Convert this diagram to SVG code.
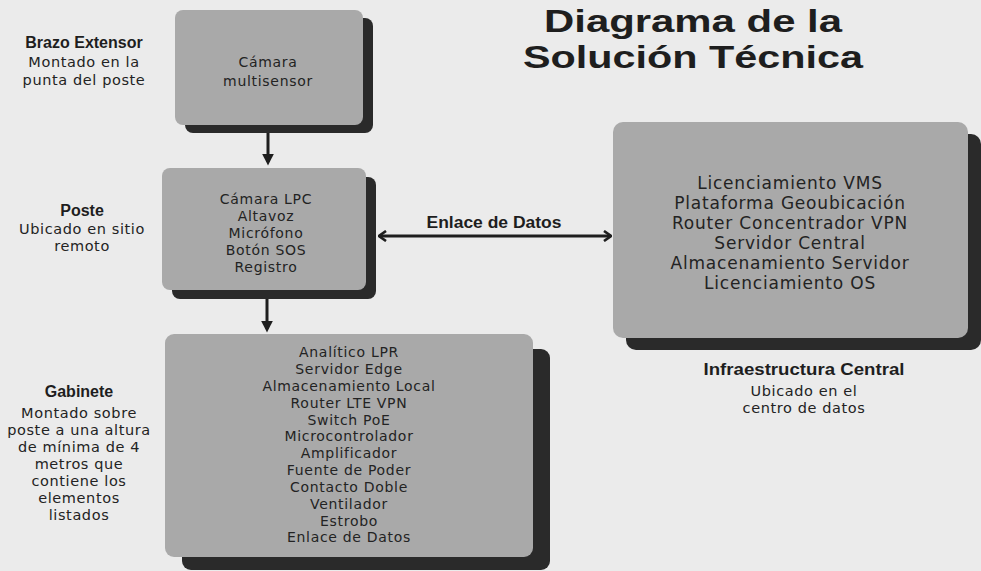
<svg xmlns="http://www.w3.org/2000/svg" width="981" height="571" viewBox="0 0 981 571">
<defs>
<style>
.bg{fill:#ebebeb}
.box{fill:#a9a9a9}
.sh{fill:#2a2a2a}
.t{font-family:"DejaVu Sans",sans-serif;font-size:14px;letter-spacing:0.7px;fill:#232323;text-anchor:middle}
.tl{font-size:17px;letter-spacing:0.8px}
.lbl{font-family:"Liberation Sans",Arial,sans-serif;font-weight:bold;font-size:16px;fill:#1e1e1e;text-anchor:middle}
.d{font-family:"DejaVu Sans",sans-serif;font-size:14.5px;letter-spacing:0.6px;fill:#232323;text-anchor:middle}
.title{font-family:"Liberation Sans",Arial,sans-serif;font-weight:bold;font-size:31px;fill:#1e1e1e;text-anchor:middle}
.conn{stroke:#1e1e1e;stroke-width:3;fill:none}
</style>
<marker id="tri" viewBox="0 0 10 10" refX="7" refY="5" markerWidth="12" markerHeight="12" markerUnits="userSpaceOnUse" orient="auto">
<path d="M0,0 L10,5 L0,10 z" fill="#1e1e1e"/>
</marker>
<marker id="chev" viewBox="0 0 10 12" refX="9" refY="6" markerWidth="10" markerHeight="12" markerUnits="userSpaceOnUse" orient="auto-start-reverse">
<path d="M2,1 L9,6 L2,11" fill="none" stroke="#1e1e1e" stroke-width="2.6"/>
</marker>
</defs>
<rect class="bg" x="0" y="0" width="981" height="571"/>

<g id="title">
<text class="title" x="693" y="32" textLength="298" lengthAdjust="spacingAndGlyphs">Diagrama de la</text>
<text class="title" x="693" y="68" textLength="340" lengthAdjust="spacingAndGlyphs">Solución Técnica</text>
</g>

<g id="label-brazo">
<text class="lbl" x="84" y="48">Brazo Extensor</text>
<text class="d" x="84" y="67">Montado en la</text>
<text class="d" x="84" y="85">punta del poste</text>
</g>

<g id="label-poste">
<text class="lbl" x="82" y="216">Poste</text>
<text class="d" x="82" y="234">Ubicado en sitio</text>
<text class="d" x="82" y="251">remoto</text>
</g>

<g id="label-gabinete">
<text class="lbl" x="79" y="397">Gabinete</text>
<text class="d" x="79" y="418">Montado sobre</text>
<text class="d" x="79" y="435">poste a una altura</text>
<text class="d" x="79" y="452">de mínima de 4</text>
<text class="d" x="79" y="469">metros que</text>
<text class="d" x="79" y="486">contiene los</text>
<text class="d" x="79" y="503">elementos</text>
<text class="d" x="79" y="520">listados</text>
</g>

<g id="label-infra">
<text class="lbl" x="804" y="375" textLength="201" lengthAdjust="spacingAndGlyphs">Infraestructura Central</text>
<text class="d" x="804" y="396">Ubicado en el</text>
<text class="d" x="804" y="413">centro de datos</text>
</g>

<g id="node-camara">
<rect class="sh" x="185" y="18" width="188" height="115" rx="8"/>
<rect class="box" x="175" y="10" width="188" height="115" rx="8"/>
<text class="t" x="268" y="67">Cámara</text>
<text class="t" x="268" y="86">multisensor</text>
</g>

<g id="node-poste">
<rect class="sh" x="172" y="177" width="204" height="122" rx="8"/>
<rect class="box" x="162" y="168" width="204" height="122" rx="8"/>
<text class="t" x="266" y="204">Cámara LPC</text>
<text class="t" x="266" y="221">Altavoz</text>
<text class="t" x="266" y="238">Micrófono</text>
<text class="t" x="266" y="255">Botón SOS</text>
<text class="t" x="266" y="272">Registro</text>
</g>

<g id="node-gabinete">
<rect class="sh" x="182" y="349" width="368" height="221" rx="9"/>
<rect class="box" x="165" y="334" width="368" height="223" rx="9"/>
<text class="t" x="349" y="357">Analítico LPR</text>
<text class="t" x="349" y="374">Servidor Edge</text>
<text class="t" x="349" y="391">Almacenamiento Local</text>
<text class="t" x="349" y="408">Router LTE VPN</text>
<text class="t" x="349" y="425">Switch PoE</text>
<text class="t" x="349" y="441">Microcontrolador</text>
<text class="t" x="349" y="458">Amplificador</text>
<text class="t" x="349" y="475">Fuente de Poder</text>
<text class="t" x="349" y="492">Contacto Doble</text>
<text class="t" x="349" y="509">Ventilador</text>
<text class="t" x="349" y="526">Estrobo</text>
<text class="t" x="349" y="542">Enlace de Datos</text>
</g>

<g id="node-infra">
<rect class="sh" x="626" y="134" width="355" height="216" rx="10"/>
<rect class="box" x="613" y="122" width="355" height="216" rx="10"/>
<text class="t tl" x="790" y="189">Licenciamiento VMS</text>
<text class="t tl" x="790" y="209">Plataforma Geoubicación</text>
<text class="t tl" x="790" y="229">Router Concentrador VPN</text>
<text class="t tl" x="790" y="249">Servidor Central</text>
<text class="t tl" x="790" y="269">Almacenamiento Servidor</text>
<text class="t tl" x="790" y="289">Licenciamiento OS</text>
</g>

<g id="connectors">
<line class="conn" x1="268" y1="133" x2="268" y2="162" marker-end="url(#tri)"/>
<line class="conn" x1="267" y1="299" x2="267" y2="329" marker-end="url(#tri)"/>
<line class="conn" x1="379" y1="236" x2="611" y2="236" marker-start="url(#chev)" marker-end="url(#chev)"/>
<text class="lbl" x="494" y="228" font-size="17" textLength="135" lengthAdjust="spacingAndGlyphs">Enlace de Datos</text>
</g>
</svg>
